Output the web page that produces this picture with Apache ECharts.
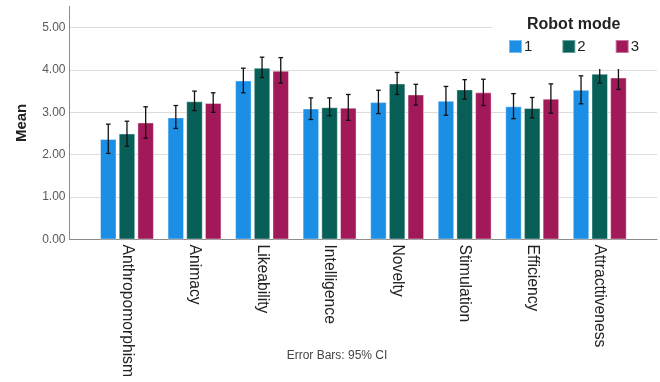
<!DOCTYPE html>
<html>
<head>
<meta charset="utf-8">
<script src="https://cdn.jsdelivr.net/npm/echarts@6/dist/echarts.min.js"></script>
<style>
  html, body { margin: 0; padding: 0; background: #fff; }
  #chart { width: 660px; height: 382px; }
</style>
</head>
<body>
<div id="chart"></div>
<script>
// Scale means per robot mode, with 95% confidence intervals
const categories = ['Anthropomorphism', 'Animacy', 'Likeability', 'Intelligence',
                    'Novelty', 'Stimulation', 'Efficiency', 'Attracttiveness'];
const modeNames = ['1', '2', '3'];

const mode1Mean  = [2.37, 2.88, 3.75, 3.09, 3.24, 3.27, 3.14, 3.53];
const mode1Lower = [2.03, 2.62, 3.46, 2.83, 2.97, 2.93, 2.85, 3.20];
const mode1Upper = [2.72, 3.16, 4.04, 3.34, 3.52, 3.61, 3.44, 3.86];

const mode2Mean  = [2.50, 3.26, 4.05, 3.12, 3.68, 3.54, 3.10, 3.91];
const mode2Lower = [2.20, 3.04, 3.82, 2.92, 3.42, 3.31, 2.87, 3.69];
const mode2Upper = [2.79, 3.50, 4.30, 3.34, 3.94, 3.77, 3.35, 4.13];

const mode3Mean  = [2.76, 3.22, 3.98, 3.11, 3.42, 3.47, 3.32, 3.82];
const mode3Lower = [2.39, 3.00, 3.69, 2.81, 3.17, 3.16, 2.98, 3.54];
const mode3Upper = [3.13, 3.46, 4.29, 3.42, 3.66, 3.78, 3.67, 4.10];

const yTicks = [0, 1, 2, 3, 4, 5];

const means  = [mode1Mean, mode2Mean, mode3Mean];
const lowers = [mode1Lower, mode2Lower, mode3Lower];
const uppers = [mode1Upper, mode2Upper, mode3Upper];
const colors = ['#1b8fe6', '#075f58', '#a2195a'];

const FONT = "Arial, 'Liberation Sans', sans-serif";
const BAR_W = 16.5;
const BAR_GAP = 2.2;
const Y_MAX = 5.5;

const chart = echarts.init(document.getElementById('chart'), null, { renderer: 'canvas' });

const barSeries = modeNames.map((name, s) => ({
  name: name,
  type: 'bar',
  xAxisIndex: 1,
  yAxisIndex: 1,
  barWidth: BAR_W,
  barGap: (BAR_GAP / BAR_W * 100) + '%',
  itemStyle: { color: colors[s], borderColor: 'rgba(255,255,255,0.4)', borderWidth: 1 },
  data: means[s],
  z: 2
}));

const errSeries = modeNames.map((name, s) => ({
  type: 'custom',
  xAxisIndex: 1,
  yAxisIndex: 1,
  z: 5,
  silent: true,
  encode: { x: 0, y: [1, 2] },
  data: categories.map((c, i) => [i, lowers[s][i], uppers[s][i]]),
  renderItem: function (params, api) {
    const off = (s - 1) * (BAR_W + BAR_GAP);
    const lo = api.coord([api.value(0), api.value(1)]);
    const hi = api.coord([api.value(0), api.value(2)]);
    const x = lo[0] + off;
    const cap = 2.3;
    const style = { stroke: '#111', lineWidth: 1.3 };
    return {
      type: 'group',
      children: [
        { type: 'line', shape: { x1: x, y1: lo[1], x2: x, y2: hi[1] }, style: style },
        { type: 'line', shape: { x1: x - cap, y1: lo[1], x2: x + cap, y2: lo[1] }, style: style },
        { type: 'line', shape: { x1: x - cap, y1: hi[1], x2: x + cap, y2: hi[1] }, style: style }
      ]
    };
  }
}));

const option = {
  animation: false,
  backgroundColor: '#fff',
  textStyle: { fontFamily: FONT },
  title: {
    text: 'Robot mode',
    left: 527,
    top: 17,
    z: 100,
    padding: 0,
    textStyle: { fontFamily: FONT, fontSize: 16, fontWeight: 'bold', color: '#222' }
  },
  legend: {
    data: modeNames,
    left: 508,
    top: 39,
    z: 100,
    padding: 0,
    itemWidth: 13,
    itemHeight: 13,
    itemGap: 29,
    icon: 'rect',
    textStyle: { fontFamily: FONT, fontSize: 15, color: '#222', padding: [2, 0, 0, -3] }
  },
  graphic: [
    {
      type: 'rect',
      z: 50,
      shape: { x: 492, y: 0, width: 168, height: 69 },
      style: { fill: '#fff' },
      silent: true
    },
    {
      type: 'text',
      z: 50,
      x: 337,
      y: 356,
      style: {
        text: 'Error Bars: 95% CI',
        fontFamily: FONT,
        fontSize: 12,
        fill: '#444',
        align: 'center',
        verticalAlign: 'middle'
      }
    }
  ],
  grid: [
    { left: 69.5, right: 3, top: 239.5 - Y_MAX * 42.4, bottom: 142.5 },
    { left: 93.2, right: 26.5, top: 239.5 - Y_MAX * 42.4, bottom: 142.5 }
  ],
  xAxis: [
    {
      gridIndex: 0,
      type: 'value',
      min: 0,
      max: 1,
      axisLine: { show: true, lineStyle: { color: '#8c8c8c', width: 1 } },
      axisTick: { show: false },
      axisLabel: { show: false },
      splitLine: { show: false }
    },
    {
      gridIndex: 1,
      type: 'category',
      data: categories,
      axisLine: { show: false },
      axisTick: { show: false },
      axisLabel: {
        rotate: -90,
        margin: 5,
        interval: 0,
        fontFamily: FONT,
        fontSize: 15.7,
        color: '#222'
      }
    }
  ],
  yAxis: [
    {
      gridIndex: 0,
      type: 'value',
      min: 0,
      max: Y_MAX,
      interval: 1,
      name: 'Mean',
      nameLocation: 'middle',
      nameGap: 40,
      nameTextStyle: { fontFamily: FONT, fontSize: 15, fontWeight: 'bold', color: '#222' },
      axisLine: { show: true, lineStyle: { color: '#8c8c8c', width: 1 } },
      axisTick: { show: false },
      axisLabel: {
        margin: 4,
        fontFamily: FONT,
        fontSize: 12,
        color: '#595959',
        showMaxLabel: false,
        formatter: v => (yTicks.indexOf(v) >= 0 ? v.toFixed(2) : '')
      },
      splitLine: {
        show: true,
        showMinLine: false,
        showMaxLine: false,
        lineStyle: { color: '#dcdcdc', width: 1 }
      }
    },
    {
      gridIndex: 1,
      type: 'value',
      min: 0,
      max: Y_MAX,
      interval: 1,
      show: false,
      splitLine: { show: false }
    }
  ],
  series: barSeries.concat(errSeries)
};

chart.setOption(option);
</script>
</body>
</html>
